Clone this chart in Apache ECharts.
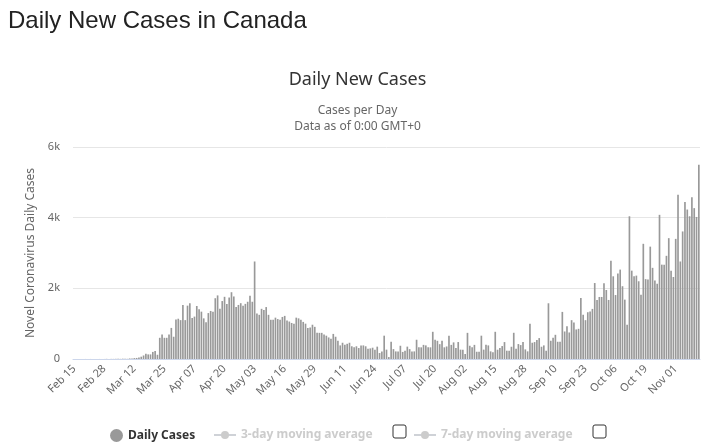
<!DOCTYPE html>
<html>
<head>
<meta charset="utf-8">
<title>Daily New Cases in Canada</title>
<script src="https://cdn.jsdelivr.net/npm/echarts@6/dist/echarts.min.js"></script>
<style>
  html, body { margin: 0; padding: 0; background: #fff; }
  #chart { width: 715px; height: 447px; }
</style>
</head>
<body>
<div id="chart"></div>
<script>
// daily new cases, one array per month (2020)
const casesFeb = [0, 0, 0, 0, 0, 1, 0, 1, 0, 2, 0, 1, 2, 1, 4];
const casesMar = [2, 3, 3, 5, 6, 4, 9, 8, 5, 15, 14, 25, 30, 40, 65, 100, 150, 130, 130, 200, 225, 120,
  600, 690, 600, 600, 690, 880, 630, 1120, 1140];
const casesApr = [1100, 1530, 1100, 1510, 1580, 1160, 1200, 1500, 1410, 1340, 1150, 1040, 1300, 1360, 1340,
  1720, 1800, 1420, 1640, 1760, 1560, 1740, 1890, 1770, 1470, 1530, 1580, 1510, 1560, 1620];
const casesMay = [1790, 1620, 2760, 1290, 1250, 1420, 1390, 1470, 1250, 1110, 1110, 1170, 1130, 1110, 1190,
  1220, 1090, 1060, 1020, 1000, 1170, 1150, 1110, 1050, 1000, 880, 890, 970, 910, 740, 740];
const casesJun = [740, 690, 660, 610, 570, 710, 630, 520, 385, 460, 400, 430, 460, 360, 330, 360, 310, 385,
  385, 360, 290, 300, 320, 260, 350, 170, 215, 660, 265, 55];
const casesJul = [490, 280, 215, 215, 375, 200, 235, 350, 280, 215, 215, 545, 330, 330, 400, 385, 330, 330,
  770, 545, 515, 420, 515, 330, 355, 660, 400, 470, 310, 480, 265];
const casesAug = [265, 140, 740, 375, 330, 400, 205, 205, 660, 265, 400, 385, 216, 188, 770, 263, 310, 366,
  479, 235, 235, 347, 742, 291, 423, 394, 479, 272, 216, 995, 460];
const casesSep = [479, 535, 592, 347, 385, 235, 1577, 516, 601, 685, 488, 488, 1333, 779, 930, 751, 1099,
  1033, 836, 854, 1728, 1249, 1099, 1324, 1343, 1418, 2150, 1671, 1756, 1756];
const casesOct = [2141, 1953, 1671, 2780, 2340, 1810, 2420, 2530, 2060, 1680, 970, 4040, 2500, 2340, 2360,
  2200, 1820, 3260, 2260, 2250, 3180, 2580, 2220, 2130, 4080, 2670, 2670, 2920, 3420, 2500, 2320];
const casesNov = [3400, 4650, 2760, 3610, 4440, 4230, 4040, 4580, 4270, 4020, 5500];

const dailyCases = [].concat(casesFeb, casesMar, casesApr, casesMay, casesJun,
  casesJul, casesAug, casesSep, casesOct, casesNov);

// category labels: one per day from Feb 15
const monthNames = ['Jan', 'Feb', 'Mar', 'Apr', 'May', 'Jun', 'Jul', 'Aug', 'Sep', 'Oct', 'Nov', 'Dec'];
const firstDay = Date.UTC(2020, 1, 15);
const dates = dailyCases.map((_, i) => {
  const d = new Date(firstDay + i * 86400000);
  return monthNames[d.getUTCMonth()] + ' ' + String(d.getUTCDate()).padStart(2, '0');
});

const yTickValues = [0, 2000, 4000, 6000];
const yTickLabels = ['0', '2k', '4k', '6k'];

const chart = echarts.init(document.getElementById('chart'));

chart.setOption({
  animation: false,
  textStyle: { fontFamily: 'Noto Sans' },
  title: [
    {
      text: 'Daily New Cases in Canada',
      left: 3,
      top: 4,
      textStyle: { fontFamily: 'Liberation Sans', fontSize: 24, fontWeight: 'normal', color: '#222' }
    },
    {
      text: 'Daily New Cases',
      left: 'center',
      top: 66,
      textStyle: { fontSize: 18, fontWeight: 'normal', color: '#333' }
    },
    {
      text: 'Cases per Day',
      left: 'center',
      top: 100,
      textStyle: { fontSize: 12, fontWeight: 'normal', color: '#666' }
    },
    {
      text: 'Data as of 0:00 GMT+0',
      left: 'center',
      top: 116,
      textStyle: { fontSize: 12, fontWeight: 'normal', color: '#666' }
    }
  ],
  legend: [
    {
      data: ['Daily Cases'],
      left: 105,
      top: 424,
      icon: 'circle',
      itemWidth: 13,
      itemHeight: 13,
      itemGap: 6,
      textStyle: { fontSize: 12, fontWeight: 'bold', color: '#333' }
    },
    {
      data: ['3-day moving average'],
      left: 208,
      top: 424,
      itemWidth: 22,
      itemHeight: 10,
      inactiveColor: '#cccccc',
      selected: { '3-day moving average': false },
      textStyle: { fontSize: 12, fontWeight: 'bold' }
    },
    {
      data: ['7-day moving average'],
      left: 408,
      top: 424,
      itemWidth: 22,
      itemHeight: 10,
      inactiveColor: '#cccccc',
      selected: { '7-day moving average': false },
      textStyle: { fontSize: 12, fontWeight: 'bold' }
    }
  ],
  graphic: [
    {
      type: 'rect',
      shape: { x: 393, y: 425, width: 13, height: 13, r: 2 },
      style: { fill: '#fff', stroke: '#333', lineWidth: 1 }
    },
    {
      type: 'rect',
      shape: { x: 593, y: 425, width: 13, height: 13, r: 2 },
      style: { fill: '#fff', stroke: '#333', lineWidth: 1 }
    }
  ],
  grid: {
    left: 73,
    right: 15,
    top: 147,
    bottom: 88
  },
  xAxis: {
    type: 'category',
    data: dates,
    axisTick: { show: false },
    axisLine: { lineStyle: { color: '#ccd6eb' } },
    axisLabel: {
      interval: 12,
      rotate: 45,
      fontSize: 11,
      color: '#666',
      margin: 8
    }
  },
  yAxis: {
    type: 'value',
    min: 0,
    max: 6000,
    interval: 2000,
    name: 'Novel Coronavirus Daily Cases',
    nameLocation: 'middle',
    nameGap: 36,
    nameTextStyle: { fontSize: 12, color: '#666' },
    axisLabel: {
      margin: 13,
      fontSize: 11,
      color: '#666',
      formatter: value => yTickLabels[yTickValues.indexOf(value)]
    },
    splitLine: { lineStyle: { color: '#e6e6e6' } }
  },
  series: [
    {
      type: 'bar',
      name: 'Daily Cases',
      data: dailyCases,
      barCategoryGap: '28%',
      itemStyle: { color: '#999999' }
    },
    {
      type: 'line',
      name: '3-day moving average',
      data: [],
      symbol: 'circle',
      itemStyle: { color: '#999999' }
    },
    {
      type: 'line',
      name: '7-day moving average',
      data: [],
      symbol: 'circle',
      itemStyle: { color: '#999999' }
    }
  ]
});
</script>
</body>
</html>
